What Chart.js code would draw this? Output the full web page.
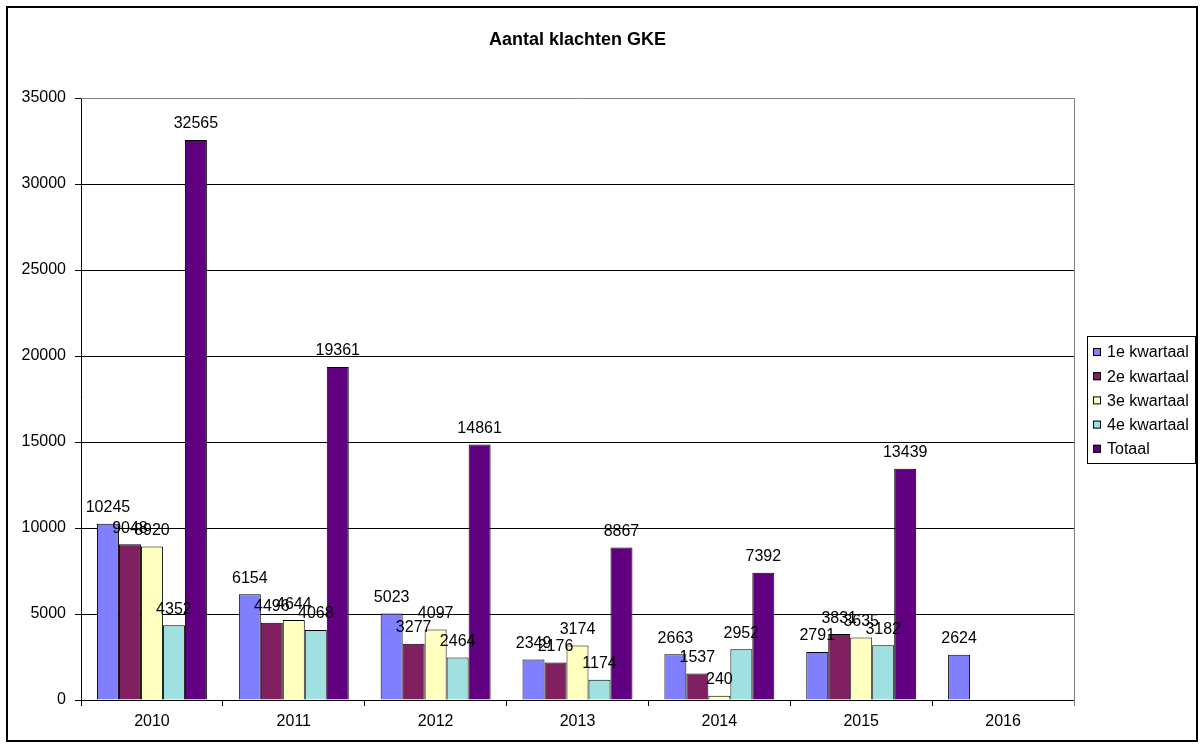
<!DOCTYPE html>
<html>
<head>
    <meta charset="utf-8">
    <script src="https://cdn.jsdelivr.net/npm/chart.js@4.4.1/dist/chart.umd.min.js"></script>
    <style>
        html, body { margin: 0; padding: 0; background: #fff; }
        #wrap { width: 1200px; height: 747px; }
    </style>
</head>
<body>
<div id="wrap"><canvas id="myChart" width="1200" height="747"></canvas></div>
<script>
    // jaren en klachten per kwartaal
    const years = ['2010', '2011', '2012', '2013', '2014', '2015', '2016'];
    const q1 = [10245, 6154, 5023, 2349, 2663, 2791, 2624];
    const q2 = [9048, 4496, 3277, 2176, 1537, 3831, null];
    const q3 = [8920, 4644, 4097, 3174, 240, 3635, null];
    const q4 = [4352, 4068, 2464, 1174, 2952, 3182, null];
    const totaal = [32565, 19361, 14861, 8867, 7392, 13439, null];
    const seriesNames = ['1e kwartaal', '2e kwartaal', '3e kwartaal', '4e kwartaal', 'Totaal'];
    const colors = ['#8080ff', '#802060', '#ffffc0', '#a0e0e0', '#600080'];

    const FONT = 'Liberation Sans, Arial, sans-serif';

    // waarden boven de balken
    const valueLabels = {
        id: 'valueLabels',
        afterDatasetsDraw(chart) {
            const ctx = chart.ctx;
            ctx.save();
            ctx.font = '16px ' + FONT;
            ctx.fillStyle = '#000';
            ctx.textAlign = 'center';
            ctx.textBaseline = 'middle';
            chart.data.datasets.forEach((ds, i) => {
                const meta = chart.getDatasetMeta(i);
                meta.data.forEach((bar, j) => {
                    if (ds.data[j] == null) return;
                    ctx.fillText(ds.data[j], bar.x, bar.y - 16);
                });
            });
            ctx.restore();
        }
    };

    // kader, legenda
    const frame = {
        id: 'frame',
        afterDraw(chart) {
            const ctx = chart.ctx;
            const a = chart.chartArea;
            ctx.save();
            // rand van plotgebied (boven en rechts grijs)
            ctx.strokeStyle = '#808080';
            ctx.lineWidth = 1;
            ctx.beginPath();
            ctx.moveTo(a.left, a.top + 0.5);
            ctx.lineTo(a.right + 0.5, a.top + 0.5);
            ctx.lineTo(a.right + 0.5, a.bottom + 6);
            ctx.stroke();

            // legenda
            const lx = 1087, ly = 336, lw = 108, lh = 127;
            ctx.strokeStyle = '#000';
            ctx.strokeRect(lx + 0.5, ly + 0.5, lw, lh);
            ctx.font = '16px ' + FONT;
            ctx.textBaseline = 'middle';
            ctx.textAlign = 'left';
            chart.data.datasets.forEach((ds, i) => {
                const y = 352 + i * 24.2;
                ctx.fillStyle = ds.backgroundColor;
                ctx.fillRect(lx + 6, y - 4, 8, 8);
                ctx.strokeStyle = '#000';
                ctx.strokeRect(lx + 6.5, y - 3.5, 7, 7);
                ctx.fillStyle = '#000';
                ctx.fillText(ds.label, lx + 20, y + 1);
            });

            // buitenkader
            ctx.lineWidth = 2;
            ctx.strokeStyle = '#000';
            ctx.strokeRect(7, 7, 1190, 734);
            ctx.restore();
        }
    };

    const allSeries = [q1, q2, q3, q4, totaal];
    const datasets = allSeries.map((d, i) => ({
        label: seriesNames[i],
        data: d,
        backgroundColor: colors[i],
        borderColor: '#000',
        borderWidth: 1,
        borderSkipped: 'bottom',
        categoryPercentage: 0.775,
        barPercentage: 1.0
    }));

    new Chart(document.getElementById('myChart'), {
        type: 'bar',
        data: { labels: years, datasets: datasets },
        options: {
            responsive: false,
            animation: false,
            layout: { padding: { left: 8, top: 8, right: 126, bottom: 7 } },
            plugins: {
                legend: { display: false },
                tooltip: { enabled: false },
                title: {
                    display: true,
                    text: 'Aantal klachten GKE',
                    fullSize: false,
                    color: '#000',
                    font: { family: FONT, size: 18, weight: 'bold' },
                    padding: { top: 21.2, bottom: 47.2 }
                }
            },
            scales: {
                x: {
                    afterFit(scale) { scale.height = 40; },
                    grid: {
                        offset: true,
                        drawOnChartArea: false,
                        drawTicks: true,
                        tickLength: 6,
                        color: '#000'
                    },
                    border: { color: '#000', width: 1 },
                    ticks: {
                        color: '#000',
                        padding: 6,
                        font: { family: FONT, size: 16 }
                    }
                },
                y: {
                    min: 0,
                    max: 35000,
                    afterFit(scale) { scale.width = 73; },
                    grid: {
                        color: (c) => c.tick && c.tick.value === 35000 ? 'rgba(0,0,0,0)' : '#000',
                        tickColor: '#000',
                        tickLength: 6
                    },
                    border: { color: '#000', width: 1 },
                    ticks: {
                        stepSize: 5000,
                        color: '#000',
                        padding: 9,
                        font: { family: FONT, size: 16 },
                        callback: (v) => String(v)
                    }
                }
            }
        },
        plugins: [valueLabels, frame]
    });
</script>
</body>
</html>
